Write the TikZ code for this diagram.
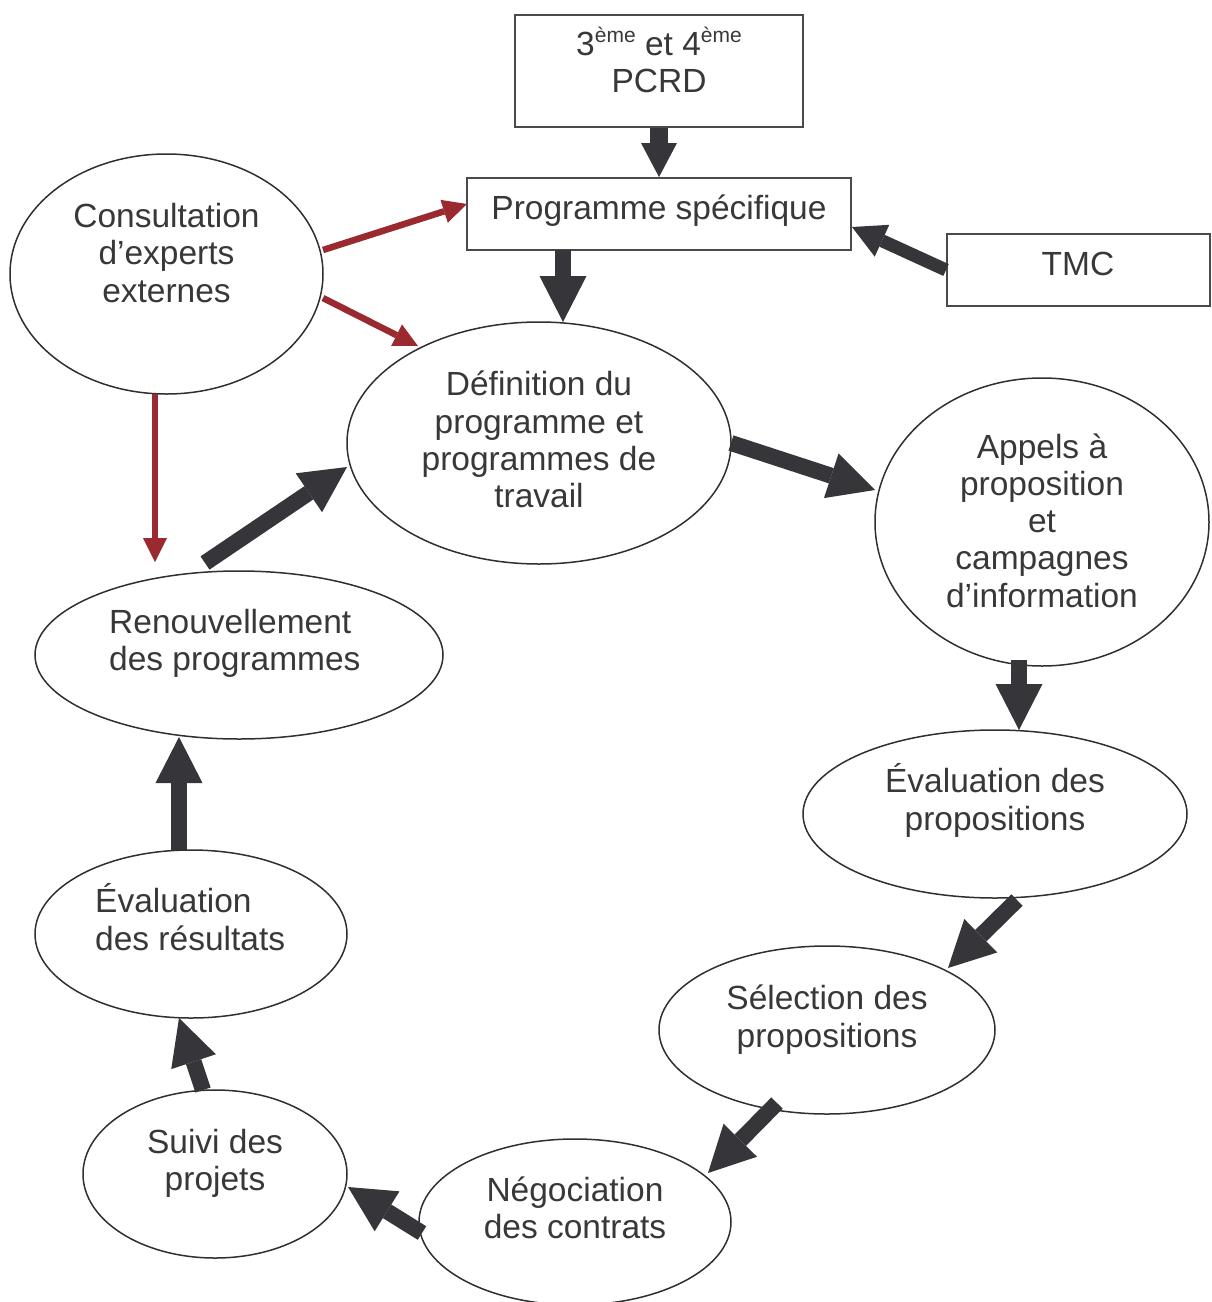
\documentclass[tikz,border=0pt]{standalone}
\usepackage{fontspec}
\setmainfont{Liberation Sans}
\usetikzlibrary{shapes.geometric,arrows.meta,calc}
\definecolor{dk}{HTML}{363539}
\definecolor{rd}{HTML}{9A2A30}
\definecolor{tx}{HTML}{38383B}
\definecolor{ln}{HTML}{2F2F2F}
\definecolor{bl}{HTML}{4A4A4A}
\begin{document}
\begin{tikzpicture}[x=1pt,y=-1pt,
  ell/.style={ellipse, draw=ln, line width=1.5pt, inner sep=0pt},
  bx/.style={rectangle, draw=bl, line width=2pt, inner sep=0pt},
  txt/.style={text=tx, font=\fontsize{33.5}{37.3}\selectfont, align=center, inner sep=0pt},
  txtl/.style={txt, align=left, anchor=west},
  blk/.style={draw=dk, line width=16pt, -{Triangle[length=46pt,width=47pt,line width=0pt]}},
  blksmall/.style={draw=dk, line width=18pt, -{Triangle[length=34pt,width=36pt,line width=0pt]}},
  blktmc/.style={draw=dk, line width=13pt, -{Triangle[length=33pt,width=35pt,line width=0pt]}},
  redarr/.style={draw=rd, line width=6.5pt, -{Triangle[length=24pt,width=24pt,line width=0pt]}}
]
\useasboundingbox (0,0) rectangle (1211,1302);
\clip (0,0) rectangle (1211,1302);

% boxes
\node[bx, minimum width=288pt, minimum height=112pt] (pcrd) at (659,71) {};
\node[bx, minimum width=384pt, minimum height=72pt] (ps) at (659,214) {};
\node[bx, minimum width=263pt, minimum height=72pt] (tmc) at (1078.5,270) {};

% ellipses
\node[ell, minimum width=313pt, minimum height=240pt] (cons) at (166.5,274) {};
\node[ell, minimum width=384pt, minimum height=242pt] (def) at (539,443) {};
\node[ell, minimum width=334pt, minimum height=288pt] (app) at (1042,522) {};
\node[ell, minimum width=384pt, minimum height=168pt] (evp) at (995,814) {};
\node[ell, minimum width=336pt, minimum height=168pt] (sel) at (827,1030) {};
\node[ell, minimum width=312pt, minimum height=166pt] (neg) at (575,1222) {};
\node[ell, minimum width=264pt, minimum height=168pt] (suivi) at (215,1174) {};
\node[ell, minimum width=312pt, minimum height=168pt] (evr) at (191,934) {};
\node[ell, minimum width=408pt, minimum height=168pt] (ren) at (239,655) {};

% texts
\node[txt] (tpcrd) at (659,60) {3\raisebox{13pt}{\fontsize{21}{21}\selectfont ème} et 4\raisebox{13pt}{\fontsize{21}{21}\selectfont ème}\\PCRD};
\node[txt] (tps) at (659,211) {Programme spécifique};
\node[txt] (ttmc) at (1078,263.5) {TMC};
\node[txt] (tcons) at (166.5,253) {Consultation\\d’experts\\externes};
\node[txt] (tdef) at (539,439.5) {Définition du\\programme et\\programmes de\\travail};
\node[txt] (tapp) at (1042,520.5) {Appels à\\proposition\\et\\campagnes\\d’information};
\node[txt] (tevp) at (995,800.5) {Évaluation des\\propositions};
\node[txt] (tsel) at (827,1019.5) {Sélection des\\propositions};
\node[txt] (tneg) at (575,1208) {Négociation\\des contrats};
\node[txt] (tsuivi) at (215,1163.5) {Suivi des\\projets};
\node[txtl] (tevr) at (95,917) {Évaluation\\des résultats};
\node[txtl] (tren) at (109,643.5) {Renouvellement\\des programmes};

% dark arrows
\draw[blksmall] (pcrd.south) -- (ps.north);
\draw[blk] ($(ps.center)+(-96,36)$) -- ($(def.center)+(24,-121)$);
\draw[blktmc] (tmc.west) -- ($(ps.center)+(193,13)$);
\draw[blk] ($(def.center)+(192,0)$) -- ($(app.center)+(-167,-32)$);
\draw[blk] ($(app.center)+(-23,138)$) -- ($(evp.center)+(24,-84)$);
\draw[blk] ($(evp.center)+(22,86)$) -- ($(sel.center)+(121,-62)$);
\draw[blk] ($(sel.center)+(-50,73)$) -- ($(neg.center)+(133,-49)$);
\draw[blk] ($(neg.center)+(-153,11)$) -- ($(suivi.center)+(133,13)$);
\draw[blk] ($(suivi.center)+(-12,-84)$) -- ($(evr.center)+(-12,84)$);
\draw[blk] ($(evr.center)+(-12,-84)$) -- ($(ren.center)+(-60,82)$);
\draw[blk] ($(ren.center)+(-34,-92)$) -- ($(def.center)+(-192,24)$);

% red arrows
\draw[redarr] ($(cons.center)+(156.5,-24)$) -- ($(ps.center)+(-192,-10)$);
\draw[redarr] ($(cons.center)+(156.5,24)$) -- ($(def.center)+(-121,-97)$);
\draw[redarr] ($(cons.center)+(-11.5,120)$) -- ($(ren.center)+(-84,-93)$);
\end{tikzpicture}
\end{document}
